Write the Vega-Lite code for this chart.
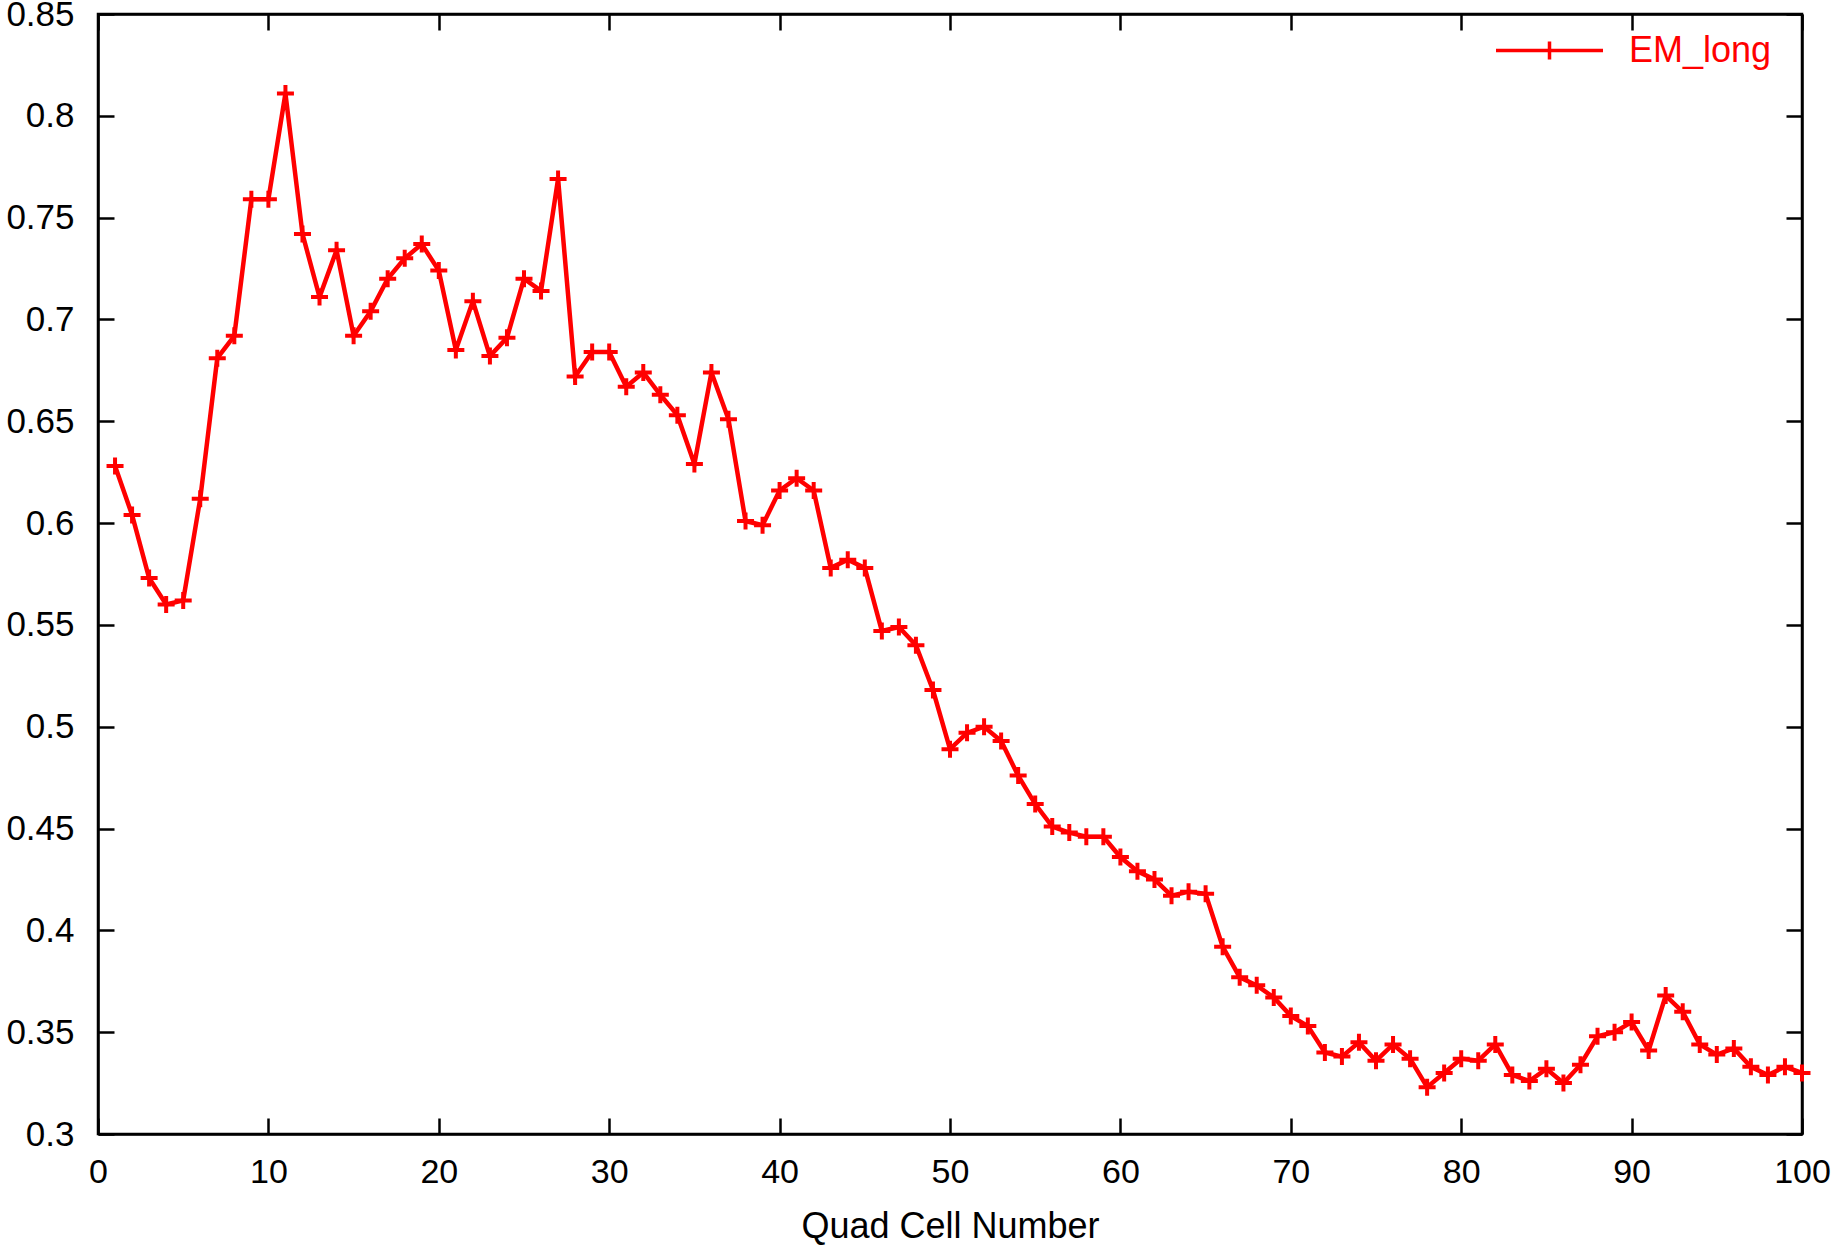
{
  "$schema": "https://vega.github.io/schema/vega-lite/v6.json",
  "width": 1704,
  "height": 1120,
  "autosize": {"type": "none"},
  "padding": {"left": 98, "top": 14, "right": 32, "bottom": 111},
  "background": "white",
  "config": {
    "view": {"stroke": "black", "strokeWidth": 2.5},
    "font": "Liberation Sans",
    "axis": {
      "labelFont": "Liberation Sans",
      "labelFontSize": 35,
      "labelColor": "black",
      "labelFlush": false,
      "labelOverlap": false,
      "titleFont": "Liberation Sans",
      "titleFontSize": 36,
      "titleFontWeight": "normal",
      "titleColor": "black",
      "domainColor": "black",
      "domainWidth": 2.5,
      "tickColor": "black",
      "tickWidth": 2.5,
      "tickSize": -16,
      "grid": false
    }
  },
  "data": {
    "values": [
      {"cell": 1, "value": 0.628, "series": "EM_long"},
      {"cell": 2, "value": 0.604, "series": "EM_long"},
      {"cell": 3, "value": 0.573, "series": "EM_long"},
      {"cell": 4, "value": 0.560, "series": "EM_long"},
      {"cell": 5, "value": 0.562, "series": "EM_long"},
      {"cell": 6, "value": 0.612, "series": "EM_long"},
      {"cell": 7, "value": 0.681, "series": "EM_long"},
      {"cell": 8, "value": 0.692, "series": "EM_long"},
      {"cell": 9, "value": 0.759, "series": "EM_long"},
      {"cell": 10, "value": 0.759, "series": "EM_long"},
      {"cell": 11, "value": 0.811, "series": "EM_long"},
      {"cell": 12, "value": 0.742, "series": "EM_long"},
      {"cell": 13, "value": 0.711, "series": "EM_long"},
      {"cell": 14, "value": 0.734, "series": "EM_long"},
      {"cell": 15, "value": 0.692, "series": "EM_long"},
      {"cell": 16, "value": 0.704, "series": "EM_long"},
      {"cell": 17, "value": 0.720, "series": "EM_long"},
      {"cell": 18, "value": 0.730, "series": "EM_long"},
      {"cell": 19, "value": 0.737, "series": "EM_long"},
      {"cell": 20, "value": 0.724, "series": "EM_long"},
      {"cell": 21, "value": 0.685, "series": "EM_long"},
      {"cell": 22, "value": 0.709, "series": "EM_long"},
      {"cell": 23, "value": 0.682, "series": "EM_long"},
      {"cell": 24, "value": 0.691, "series": "EM_long"},
      {"cell": 25, "value": 0.720, "series": "EM_long"},
      {"cell": 26, "value": 0.714, "series": "EM_long"},
      {"cell": 27, "value": 0.769, "series": "EM_long"},
      {"cell": 28, "value": 0.672, "series": "EM_long"},
      {"cell": 29, "value": 0.684, "series": "EM_long"},
      {"cell": 30, "value": 0.684, "series": "EM_long"},
      {"cell": 31, "value": 0.667, "series": "EM_long"},
      {"cell": 32, "value": 0.674, "series": "EM_long"},
      {"cell": 33, "value": 0.663, "series": "EM_long"},
      {"cell": 34, "value": 0.653, "series": "EM_long"},
      {"cell": 35, "value": 0.629, "series": "EM_long"},
      {"cell": 36, "value": 0.674, "series": "EM_long"},
      {"cell": 37, "value": 0.651, "series": "EM_long"},
      {"cell": 38, "value": 0.601, "series": "EM_long"},
      {"cell": 39, "value": 0.599, "series": "EM_long"},
      {"cell": 40, "value": 0.616, "series": "EM_long"},
      {"cell": 41, "value": 0.622, "series": "EM_long"},
      {"cell": 42, "value": 0.616, "series": "EM_long"},
      {"cell": 43, "value": 0.578, "series": "EM_long"},
      {"cell": 44, "value": 0.582, "series": "EM_long"},
      {"cell": 45, "value": 0.578, "series": "EM_long"},
      {"cell": 46, "value": 0.547, "series": "EM_long"},
      {"cell": 47, "value": 0.549, "series": "EM_long"},
      {"cell": 48, "value": 0.540, "series": "EM_long"},
      {"cell": 49, "value": 0.518, "series": "EM_long"},
      {"cell": 50, "value": 0.489, "series": "EM_long"},
      {"cell": 51, "value": 0.497, "series": "EM_long"},
      {"cell": 52, "value": 0.500, "series": "EM_long"},
      {"cell": 53, "value": 0.493, "series": "EM_long"},
      {"cell": 54, "value": 0.476, "series": "EM_long"},
      {"cell": 55, "value": 0.462, "series": "EM_long"},
      {"cell": 56, "value": 0.451, "series": "EM_long"},
      {"cell": 57, "value": 0.448, "series": "EM_long"},
      {"cell": 58, "value": 0.446, "series": "EM_long"},
      {"cell": 59, "value": 0.446, "series": "EM_long"},
      {"cell": 60, "value": 0.436, "series": "EM_long"},
      {"cell": 61, "value": 0.429, "series": "EM_long"},
      {"cell": 62, "value": 0.425, "series": "EM_long"},
      {"cell": 63, "value": 0.417, "series": "EM_long"},
      {"cell": 64, "value": 0.419, "series": "EM_long"},
      {"cell": 65, "value": 0.418, "series": "EM_long"},
      {"cell": 66, "value": 0.392, "series": "EM_long"},
      {"cell": 67, "value": 0.377, "series": "EM_long"},
      {"cell": 68, "value": 0.373, "series": "EM_long"},
      {"cell": 69, "value": 0.367, "series": "EM_long"},
      {"cell": 70, "value": 0.358, "series": "EM_long"},
      {"cell": 71, "value": 0.353, "series": "EM_long"},
      {"cell": 72, "value": 0.340, "series": "EM_long"},
      {"cell": 73, "value": 0.338, "series": "EM_long"},
      {"cell": 74, "value": 0.345, "series": "EM_long"},
      {"cell": 75, "value": 0.336, "series": "EM_long"},
      {"cell": 76, "value": 0.344, "series": "EM_long"},
      {"cell": 77, "value": 0.337, "series": "EM_long"},
      {"cell": 78, "value": 0.323, "series": "EM_long"},
      {"cell": 79, "value": 0.330, "series": "EM_long"},
      {"cell": 80, "value": 0.337, "series": "EM_long"},
      {"cell": 81, "value": 0.336, "series": "EM_long"},
      {"cell": 82, "value": 0.344, "series": "EM_long"},
      {"cell": 83, "value": 0.329, "series": "EM_long"},
      {"cell": 84, "value": 0.326, "series": "EM_long"},
      {"cell": 85, "value": 0.332, "series": "EM_long"},
      {"cell": 86, "value": 0.325, "series": "EM_long"},
      {"cell": 87, "value": 0.334, "series": "EM_long"},
      {"cell": 88, "value": 0.348, "series": "EM_long"},
      {"cell": 89, "value": 0.350, "series": "EM_long"},
      {"cell": 90, "value": 0.355, "series": "EM_long"},
      {"cell": 91, "value": 0.341, "series": "EM_long"},
      {"cell": 92, "value": 0.368, "series": "EM_long"},
      {"cell": 93, "value": 0.360, "series": "EM_long"},
      {"cell": 94, "value": 0.344, "series": "EM_long"},
      {"cell": 95, "value": 0.339, "series": "EM_long"},
      {"cell": 96, "value": 0.342, "series": "EM_long"},
      {"cell": 97, "value": 0.333, "series": "EM_long"},
      {"cell": 98, "value": 0.329, "series": "EM_long"},
      {"cell": 99, "value": 0.333, "series": "EM_long"},
      {"cell": 100, "value": 0.330, "series": "EM_long"}
    ]
  },
  "resolve": {"axis": {"x": "independent", "y": "independent"}},
  "layer": [
    {
      "mark": {
        "type": "line",
        "strokeWidth": 4.5,
        "point": {"shape": "M-1,0H1M0,-1V1", "filled": false, "size": 289, "strokeWidth": 4}
      },
      "encoding": {
        "x": {
          "field": "cell", "type": "quantitative",
          "scale": {"domain": [0, 100], "nice": false, "zero": false},
          "axis": {"orient": "bottom", "values": [0,10,20,30,40,50,60,70,80,90,100], "labelFontSize": 34, "labelPadding": 37, "title": "Quad Cell Number", "titlePadding": 20}
        },
        "y": {
          "field": "value", "type": "quantitative",
          "scale": {"domain": [0.3, 0.85], "nice": false, "zero": false},
          "axis": {"orient": "left", "values": [0.3,0.35,0.4,0.45,0.5,0.55,0.6,0.65,0.7,0.75,0.8,0.85], "format": ".2~f", "labelPadding": 40, "title": null}
        },
        "color": {
          "field": "series", "type": "nominal",
          "scale": {"domain": ["EM_long"], "range": ["#ff0000"]},
          "legend": {
            "title": null,
            "orient": "none",
            "legendX": 1396,
            "legendY": -19,
            "symbolType": "M-1,0H1M0,-0.17V0.17",
            "symbolSize": 11449,
            "symbolStrokeWidth": 3.5,
            "symbolStrokeColor": "#ff0000",
            "symbolFillColor": "transparent",
            "labelColor": "#ff0000",
            "labelFont": "Liberation Sans",
            "labelFontSize": 36,
            "labelOffset": 24
          }
        }
      }
    },
    {
      "mark": {"type": "point", "opacity": 0},
      "encoding": {
        "x": {
          "field": "cell", "type": "quantitative",
          "axis": {"orient": "top", "values": [0,10,20,30,40,50,60,70,80,90,100], "labels": false, "title": null}
        },
        "y": {
          "field": "value", "type": "quantitative",
          "axis": {"orient": "right", "values": [0.3,0.35,0.4,0.45,0.5,0.55,0.6,0.65,0.7,0.75,0.8,0.85], "labels": false, "title": null}
        }
      }
    }
  ]
}
